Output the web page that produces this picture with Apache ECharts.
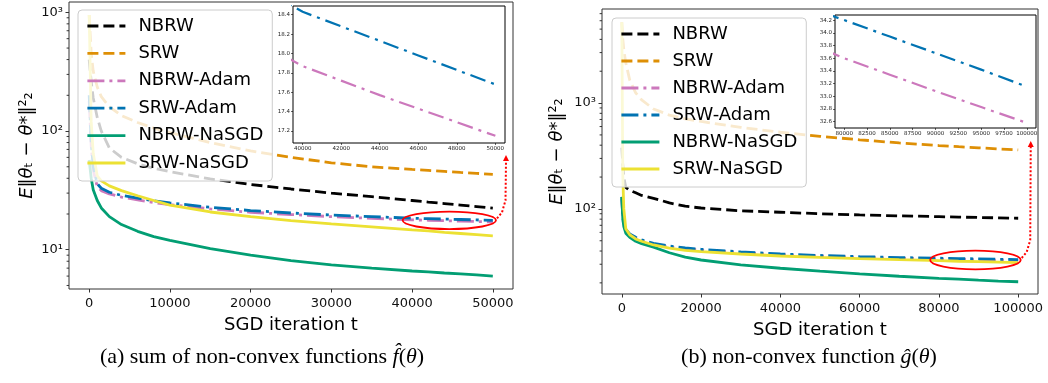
<!DOCTYPE html>
<html><head><meta charset="utf-8">
<script src="https://cdn.jsdelivr.net/npm/echarts@6/dist/echarts.min.js"></script>
<style>html,body{margin:0;padding:0;background:#fff}#c{width:1048px;height:383px}</style>
</head><body><div id="c"></div>
<script>
// ---------------- data ----------------
const seriesNames = ['NBRW', 'SRW', 'NBRW-Adam', 'SRW-Adam', 'NBRW-NaSGD', 'SRW-NaSGD'];

// (a) sum of non-convex functions
const tA = [0, 250, 500, 1000, 1500, 2500, 4000, 6000, 8000, 10000, 15000, 20000, 25000, 30000, 35000, 40000, 42000, 44000, 46000, 48000, 50000];
const nbrwA     = [400, 260, 190, 130, 100, 72, 60, 53, 48.5, 45.5, 39.5, 35.5, 32.5, 30, 28, 26, 25.2, 24.5, 23.8, 23.1, 22.4];
const srwA      = [950, 450, 320, 235, 195, 160, 135, 118, 106, 97, 80, 68, 60, 54, 50, 47.5, 46.6, 45.7, 44.8, 44, 43.2];
const nbrwAdamA = [180, 75, 47, 34, 31.5, 29.5, 27.8, 26.3, 25, 24, 22.1, 20.7, 19.8, 19.0, 18.4, 17.87, 17.72, 17.57, 17.43, 17.29, 17.15];
const srwAdamA  = [200, 80, 50, 36, 33, 30.5, 28.7, 27.2, 25.8, 24.8, 22.8, 21.4, 20.4, 19.6, 19.0, 18.43, 18.28, 18.13, 17.98, 17.83, 17.68];
const nbrwNaA   = [57, 40, 32, 26, 22.5, 19, 16.3, 14.3, 12.9, 12, 10.2, 9.0, 8.1, 7.45, 7.0, 6.62, 6.5, 6.37, 6.25, 6.13, 6.0];
const srwNaA    = [950, 120, 65, 42, 38, 34.5, 31.5, 28.5, 26.0, 23.8, 20.8, 19.0, 17.6, 16.5, 15.6, 14.7, 14.4, 14.0, 13.7, 13.4, 13.1];

// (b) non-convex function
const tB = [0, 250, 500, 1000, 2000, 3500, 5000, 8000, 12000, 16000, 20000, 30000, 40000, 50000, 60000, 70000, 80000, 85000, 90000, 95000, 100000];
const nbrwB     = [380, 260, 200, 160, 150, 142, 134, 126, 114, 106, 102, 96, 93, 90, 87.7, 86, 84.5, 83.7, 83, 82.3, 81.6];
const srwB      = [5800, 4000, 3200, 2400, 1650, 1250, 1070, 880, 770, 710, 670, 590, 530, 485, 450, 420, 397, 387, 378, 369, 361];
const nbrwAdamB = [125, 82, 70, 62, 56.5, 52.5, 49.8, 46.3, 43.7, 42, 40.8, 38.6, 37, 35.8, 34.9, 34.2, 33.6, 33.34, 33.08, 32.83, 32.58];
const srwAdamB  = [130, 85, 72, 64, 58, 54, 51, 47.3, 44.5, 42.8, 41.5, 39.2, 37.5, 36.3, 35.4, 34.7, 34.2, 33.94, 33.68, 33.42, 33.15];
const nbrwNaB   = [130, 80, 68, 59, 54, 49.5, 47, 43.5, 38.5, 35, 32.9, 29.6, 27.5, 25.8, 24.3, 23.1, 22.1, 21.7, 21.2, 20.8, 20.5];
const srwNaB    = [5800, 200, 100, 65, 57, 52, 49.5, 45.6, 42.5, 40.5, 39.5, 37.5, 35.9, 34.8, 33.9, 33.1, 32.4, 32.0, 31.7, 31.4, 31.1];

// tick labels
const xTicksA = [0, 10000, 20000, 30000, 40000, 50000];
const xTicksB = [0, 20000, 40000, 60000, 80000, 100000];
const yMajorA = [10, 100, 1000];
const yMinorA = [5, 6, 7, 8, 9, 20, 30, 40, 50, 60, 70, 80, 90, 200, 300, 400, 500, 600, 700, 800, 900];
const yMajorB = [100, 1000];
const yMinorB = [20, 30, 40, 50, 60, 70, 80, 90, 200, 300, 400, 500, 600, 700, 800, 900, 2000, 3000, 4000, 5000, 6000, 7000];
const insetXTicksA = [40000, 42000, 44000, 46000, 48000, 50000];
const insetYTicksA = [17.2, 17.4, 17.6, 17.8, 18.0, 18.2, 18.4];
const insetXTicksB = [80000, 82500, 85000, 87500, 90000, 92500, 95000, 97500, 100000];
const insetYTicksB = [32.6, 32.8, 33.0, 33.2, 33.4, 33.6, 33.8, 34.0, 34.2];

const xLabel = 'SGD iteration t';
const captionA = '(a) sum of non-convex functions {i|f\u0302}({i|θ})';
const captionB = '(b) non-convex function {i|ĝ}({i|θ})';

// ---------------- styles ----------------
const colors = ['#000000', '#DE8F05', '#CC78BC', '#0173B2', '#029E73', '#ECE133'];
const dashMain = [[11, 5], [11, 5], [17, 5, 3, 5], [17, 5, 3, 5], 'solid', 'solid'];
const FONT = 'DejaVu Sans';
const SUP = {1: '\u00b9', 2: '\u00b2', 3: '\u00b3'};
const frame = '#333';

function mk(name, k, t, vals, xi, yi, w, dash, z) {
  return {
    type: 'line', name: name, xAxisIndex: xi, yAxisIndex: yi, z: z,
    data: t.map((x, i) => [x, vals[i]]),
    symbol: 'none', showSymbol: false, silent: true, clip: true,
    lineStyle: {color: colors[k], width: w, type: dash, cap: 'butt'},
    itemStyle: {color: colors[k]}
  };
}

const dataA = [nbrwA, srwA, nbrwAdamA, srwAdamA, nbrwNaA, srwNaA];
const dataB = [nbrwB, srwB, nbrwAdamB, srwAdamB, nbrwNaB, srwNaB];

const series = [];
dataA.forEach((d, k) => series.push(mk(seriesNames[k], k, tA, d, 0, 0, 2.8, dashMain[k], 2)));
[2, 3].forEach(k => series.push(mk(seriesNames[k], k, tA, dataA[k], 1, 1, 2.2, [16, 6, 3, 6], 7)));
dataB.forEach((d, k) => series.push(mk(seriesNames[k], k, tB, d, 2, 2, 2.8, dashMain[k], 2)));
[2, 3].forEach(k => series.push(mk(seriesNames[k], k, tB, dataB[k], 3, 3, 2.2, [16, 6, 3, 6], 7)));

const plain = v => String(Math.round(v));
function mainX(grid, min, max, ticks) {
  return {
    type: 'value', gridIndex: grid, min: min, max: max,
    name: xLabel, nameLocation: 'middle', nameGap: 27,
    nameTextStyle: {fontFamily: FONT, fontSize: 18, color: '#000'},
    axisLine: {show: false, onZero: false}, splitLine: {show: false},
    axisTick: {show: true, length: 3.5, lineStyle: {color: frame, width: 1}, customValues: ticks},
    axisLabel: {fontFamily: FONT, fontSize: 13, color: '#111', margin: 8, customValues: ticks, formatter: plain}
  };
}
function mainY(grid, min, max, major, nameGap) {
  return {
    type: 'log', logBase: 10, gridIndex: grid, min: min, max: max, position: 'left',
    name: '{i|E}‖{i|θ}ₜ − {i|θ}*‖²₂', nameLocation: 'middle', nameRotate: 90, nameGap: nameGap,
    nameTextStyle: {fontFamily: FONT, fontSize: 18, color: '#000',
      rich: {i: {fontFamily: FONT, fontSize: 18, fontStyle: 'italic', color: '#000'}}},
    axisLine: {show: false, onZero: false}, splitLine: {show: false}, minorTick: {show: false},
    axisTick: {show: true, length: 3.5, lineStyle: {color: frame, width: 1}, customValues: major},
    axisLabel: {fontFamily: FONT, fontSize: 13, color: '#111', margin: 6, customValues: major,
      formatter: v => '10' + SUP[Math.round(Math.log10(v))]}
  };
}
function insetX(grid, min, max, ticks) {
  return {
    type: 'value', gridIndex: grid, min: min, max: max,
    axisLine: {show: false, onZero: false}, splitLine: {show: false},
    axisTick: {show: true, length: 2, lineStyle: {color: '#000', width: 0.6}, customValues: ticks},
    axisLabel: {fontFamily: FONT, fontSize: 5.5, color: '#222', margin: 3, customValues: ticks, formatter: plain}
  };
}
function insetY(grid, min, max, ticks) {
  return {
    type: 'value', gridIndex: grid, min: min, max: max,
    axisLine: {show: false, onZero: false}, splitLine: {show: false},
    axisTick: {show: true, length: 2, lineStyle: {color: '#000', width: 0.6}, customValues: ticks},
    axisLabel: {fontFamily: FONT, fontSize: 5.5, color: '#222', margin: 3, customValues: ticks,
      formatter: v => v.toFixed(1)}
  };
}
function legend(left, top, gap) {
  return {
    orient: 'vertical', left: left, top: top, padding: [7, 9, 9, 8],
    itemWidth: 38, itemHeight: 14, itemGap: gap,
    backgroundColor: 'rgba(255,255,255,0.8)', borderColor: '#cccccc', borderWidth: 1, borderRadius: 4,
    textStyle: {fontFamily: FONT, fontSize: 18, color: '#000', padding: [0, 0, 0, 8]},
    itemStyle: {opacity: 0}, lineStyle: {width: 2.8}, selectedMode: false,
    data: seriesNames
  };
}

const chart = echarts.init(document.getElementById('c'), null, {renderer: 'canvas'});
chart.setOption({
  animation: false,
  backgroundColor: '#ffffff',
  grid: [
    {left: 69, top: 2, width: 444, height: 287, show: true, borderColor: frame, borderWidth: 1, backgroundColor: 'transparent'},
    {left: 293, top: 6, width: 212, height: 137, show: true, borderColor: '#000', borderWidth: 1, backgroundColor: '#fff', z: 5},
    {left: 602, top: 9, width: 436, height: 285, show: true, borderColor: frame, borderWidth: 1, backgroundColor: 'transparent'},
    {left: 835, top: 15, width: 201, height: 113, show: true, borderColor: '#000', borderWidth: 1, backgroundColor: '#fff', z: 5}
  ],
  xAxis: [
    mainX(0, -2500, 52500, xTicksA),
    insetX(1, 39500, 50500, insetXTicksA),
    mainX(2, -5000, 105000, xTicksB),
    insetX(3, 79000, 101000, insetXTicksB)
  ],
  yAxis: [
    mainY(0, 4.67, 1222, yMajorA, 33),
    insetY(1, 17.076, 18.49, insetYTicksA),
    mainY(2, 15.7, 7745, yMajorB, 36),
    insetY(3, 32.50, 34.28, insetYTicksB)
  ],
  legend: [legend(78, 10, 9.4), legend(612, 18, 9)],
  series: series
});

// ---------------- minor log ticks (positioned by the y axis scale) ----------------
function minorTickGraphics(xAxisIndex, yAxisIndex, xmin, values) {
  const x0 = chart.convertToPixel({xAxisIndex: xAxisIndex}, xmin);
  return values.map(v => {
    const y = chart.convertToPixel({yAxisIndex: yAxisIndex}, v);
    return {type: 'line', z: 50, silent: true,
      shape: {x1: x0 - 2.4, y1: y, x2: x0, y2: y},
      style: {stroke: '#222', lineWidth: 0.9}};
  });
}

// ---------------- annotations ----------------
function annot(grid, t, v, rx, ry, tipY) {
  const c = chart.convertToPixel({gridIndex: grid}, [t, v]);
  const ex = c[0] + rx, ey = c[1];
  const ax = ex + 10;
  return [
    {type: 'ellipse', z: 100, shape: {cx: c[0], cy: c[1], rx: rx, ry: ry},
     style: {fill: 'none', stroke: '#ff0000', lineWidth: 1.8}},
    {type: 'polyline', z: 100, shape: {points: [[ex + 1, ey - 2], [ex + 6, ey - 8], [ax - 0.5, ey - 20], [ax, tipY + 6]]},
     style: {fill: 'none', stroke: '#ff0000', lineWidth: 2, lineDash: [2, 2]}},
    {type: 'polygon', z: 100, shape: {points: [[ax, tipY], [ax - 3, tipY + 6], [ax + 3, tipY + 6]]},
     style: {fill: '#ff0000'}}
  ];
}
const capStyle = (text, x) => ({
  type: 'text', z: 100, x: x, y: 357,
  style: {text: text, fontFamily: 'Liberation Serif', fontSize: 22, fill: '#000', align: 'center', verticalAlign: 'middle',
    rich: {i: {fontFamily: 'Liberation Serif', fontSize: 22, fontStyle: 'italic', fill: '#000'}}}
});
chart.setOption({
  graphic: [].concat(
    minorTickGraphics(0, 0, -2500, yMinorA),
    minorTickGraphics(2, 2, -5000, yMinorB),
    annot(0, 44610, 17.69, 46.7, 8.7, 155),
    annot(2, 89215, 32.9, 45.3, 9.3, 141),
    [capStyle(captionA, 262), capStyle(captionB, 809)]
  )
});
</script></body></html>
